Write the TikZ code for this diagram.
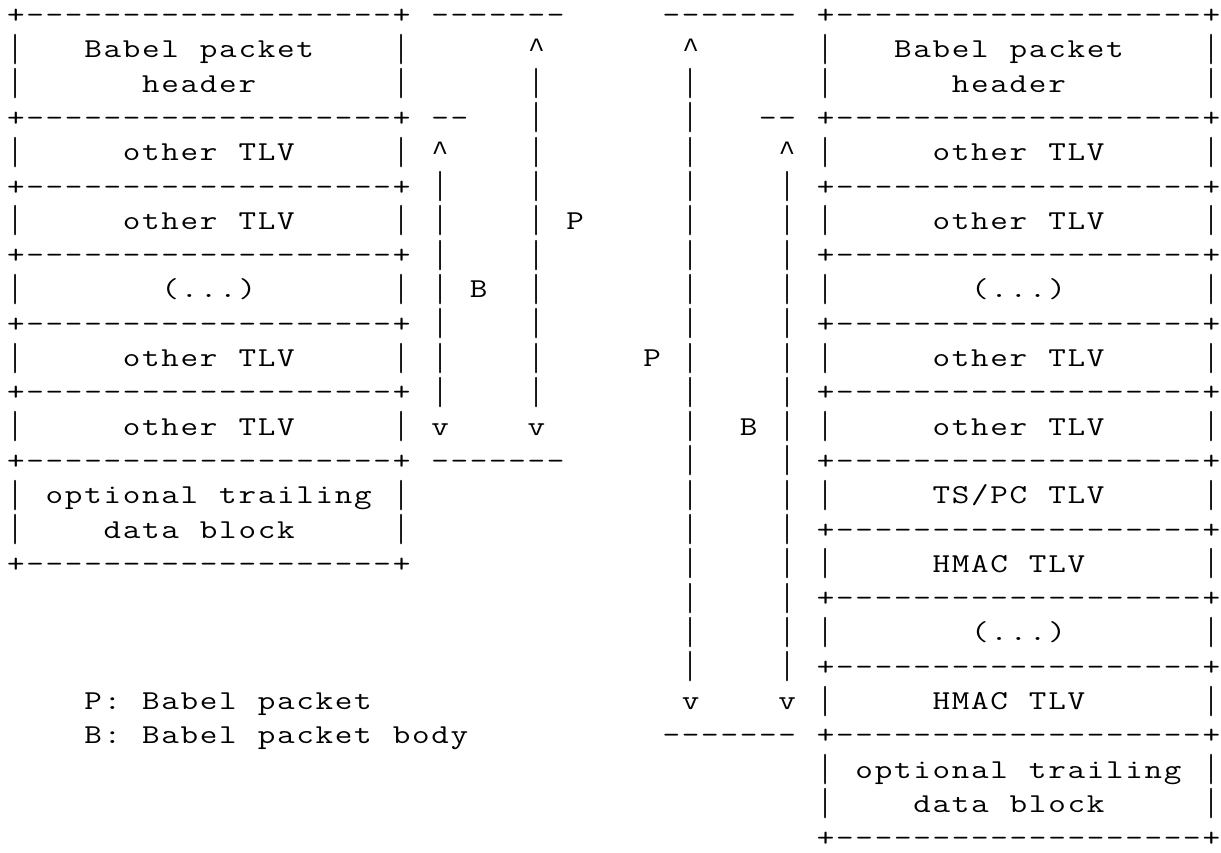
\documentclass[tikz,border=0pt]{standalone}
\usepackage{graphicx}
\usepackage{fontspec}
\newfontfamily\aqcaretfont{Liberation Mono}
\newlength\aqcw \setlength\aqcw{9.64pt}
\newcommand\aqsx{1.25}
\ExplSyntaxOn
\NewDocumentCommand \ascrow { m }
  {
    \str_set:Nx \l_tmpa_str { #1 }
    \str_map_inline:Nn \l_tmpa_str
      {
        \str_case:nnF { ##1 }
          {
            { _ } { \hbox_to_wd:nn { \aqcw } { \hfil } }
            { ^ } { \hbox_to_wd:nn { \aqcw }
                    { \hss {\aqcaretfont\fontsize{14pt}{17pt}\selectfont ##1} \hss } }
            { | } { \hbox_to_wd:nn { \aqcw }
                    { \hss \raisebox{-3.4pt}{\resizebox*{\width}{15.2pt}{\raisebox{\depth}{##1}}} \hss } }
          }
          { \hbox_to_wd:nn { \aqcw } { \hss \scalebox{\aqsx}[1]{##1} \hss } }
      }
  }
\ExplSyntaxOff
% box pieces (21 columns each, '_' = blank column)
\newcommand\aqB{+-------------------+}
\newcommand\aqBP{|___Babel_packet____|}
\newcommand\aqHD{|______header_______|}
\newcommand\aqOT{|_____other_TLV_____|}
\newcommand\aqEL{|_______(...)_______|}
\newcommand\aqTS{|_____TS/PC_TLV_____|}
\newcommand\aqHM{|_____HMAC_TLV______|}
\newcommand\aqOP{|_optional_trailing_|}
\newcommand\aqDB{|____data_block_____|}
\newcommand\aqNO{_____________________}
\newcommand\aqmA{_|____|_______|____|_}
\newcommand\aqmB{______________|____|_}
\newcommand\aqmC{______________v____v_}
\begin{document}
\begin{tikzpicture}[
  asc/.style={anchor=base west, inner sep=0pt, outer sep=0pt,
    font=\ttfamily\fontsize{13.65pt}{17pt}\selectfont, text=black}]
\fill[white] (0,0) rectangle (610.5pt,-426pt);
\useasboundingbox (0,0) rectangle (610.5pt,-426pt);
\node[asc] (r0)  at (3.15pt,-11.75pt)  {\ascrow{\aqB _-------_____-------_\aqB}};
\node[asc] (r1)  at (3.15pt,-28.90pt)  {\ascrow{\aqBP ______^_______^______\aqBP}};
\node[asc] (r2)  at (3.15pt,-46.05pt)  {\ascrow{\aqHD ______|_______|______\aqHD}};
\node[asc] (r3)  at (3.15pt,-63.20pt)  {\ascrow{\aqB _--___|_______|___--_\aqB}};
\node[asc] (r4)  at (3.15pt,-80.35pt)  {\ascrow{\aqOT _^____|_______|____^_\aqOT}};
\node[asc] (r5)  at (3.15pt,-97.50pt)  {\ascrow{\aqB\aqmA\aqB}};
\node[asc] (r6)  at (3.15pt,-114.65pt) {\ascrow{\aqOT _|____|_P_____|____|_\aqOT}};
\node[asc] (r7)  at (3.15pt,-131.80pt) {\ascrow{\aqB\aqmA\aqB}};
\node[asc] (r8)  at (3.15pt,-148.95pt) {\ascrow{\aqEL _|_B__|_______|____|_\aqEL}};
\node[asc] (r9)  at (3.15pt,-166.10pt) {\ascrow{\aqB\aqmA\aqB}};
\node[asc] (r10) at (3.15pt,-183.25pt) {\ascrow{\aqOT _|____|_____P_|____|_\aqOT}};
\node[asc] (r11) at (3.15pt,-200.40pt) {\ascrow{\aqB\aqmA\aqB}};
\node[asc] (r12) at (3.15pt,-217.55pt) {\ascrow{\aqOT _v____v_______|__B_|_\aqOT}};
\node[asc] (r13) at (3.15pt,-234.70pt) {\ascrow{\aqB _-------______|____|_\aqB}};
\node[asc] (r14) at (3.15pt,-251.85pt) {\ascrow{\aqOP\aqmB\aqTS}};
\node[asc] (r15) at (3.15pt,-269.00pt) {\ascrow{\aqDB\aqmB\aqB}};
\node[asc] (r16) at (3.15pt,-286.15pt) {\ascrow{\aqB\aqmB\aqHM}};
\node[asc] (r17) at (3.15pt,-303.30pt) {\ascrow{\aqNO\aqmB\aqB}};
\node[asc] (r18) at (3.15pt,-320.45pt) {\ascrow{\aqNO\aqmB\aqEL}};
\node[asc] (r19) at (3.15pt,-337.60pt) {\ascrow{\aqNO\aqmB\aqB}};
\node[asc] (r20) at (3.15pt,-354.75pt) {\ascrow{____P:_Babel_packet__\aqmC\aqHM}};
\node[asc] (r21) at (3.15pt,-371.90pt) {\ascrow{____B:_Babel_packet_body__________-------_\aqB}};
\node[asc] (r22) at (3.15pt,-389.05pt) {\ascrow{\aqNO\aqNO\aqOP}};
\node[asc] (r23) at (3.15pt,-406.20pt) {\ascrow{\aqNO\aqNO\aqDB}};
\node[asc] (r24) at (3.15pt,-423.35pt) {\ascrow{\aqNO\aqNO\aqB}};
\end{tikzpicture}
\end{document}
